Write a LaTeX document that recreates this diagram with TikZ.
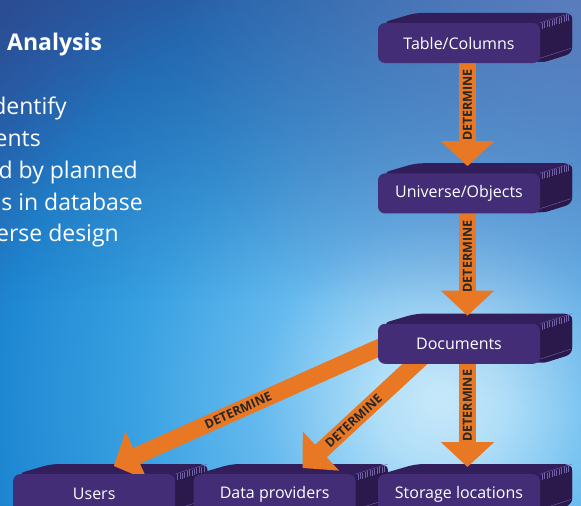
\documentclass[tikz,border=0pt]{standalone}
\usepackage{fontspec}
\setmainfont{Open Sans}
\usetikzlibrary{arrows.meta, positioning, backgrounds, fadings}
\usepackage{xcolor}
\definecolor{boxFront}{RGB}{66,45,118}
\definecolor{boxTop}{RGB}{50,30,90}
\definecolor{boxSide}{RGB}{43,25,76}
\definecolor{boxGrille}{RGB}{112,98,168}
\definecolor{arrowOrange}{RGB}{232,120,36}
\definecolor{labelGray}{RGB}{38,38,38}
\definecolor{skyGlow}{RGB}{200,232,250}
\definecolor{skyLight}{RGB}{175,222,248}
\definecolor{skyMid}{RGB}{100,185,238}
\definecolor{skyBlue}{RGB}{55,160,225}
\definecolor{skyBright}{RGB}{30,135,210}
\definecolor{skyDeep}{RGB}{38,105,182}
\definecolor{skyDark}{RGB}{46,80,150}
\definecolor{skyEdge}{RGB}{46,72,138}
\definecolor{hazeBlue}{RGB}{125,140,200}
\definecolor{topShade}{RGB}{42,72,140}
\pgfdeclareradialshading{skyglow}{\pgfpoint{0bp}{0bp}}{%
  color(0bp)=(skyGlow); color(2.5bp)=(skyLight); color(7bp)=(skyMid);
  color(12bp)=(skyBlue); color(17bp)=(skyBright); color(20bp)=(skyDeep);
  color(23bp)=(skyDark); color(25bp)=(skyEdge); color(50bp)=(skyEdge)}
\tikzfading[name=haze fade, inner color=transparent!35, outer color=transparent!100]
\tikzfading[name=top fade, top color=transparent!45, bottom color=transparent!100]
\tikzset{
    dbbox/.style={fill=boxFront, rounded corners=7pt, minimum width=162pt, minimum height=40pt,
        inner sep=0pt, text=white, font=\fontsize{16}{19}\selectfont},
    determine/.style={draw=arrowOrange, line width=17pt, -{Triangle[width=52pt,length=25pt]}},
    detlabel/.style={text=labelGray, inner sep=0pt, font=\fontsize{12.5}{14}\selectfont\bfseries},
    sidetext/.style={text=white, inner sep=0pt, font=\fontsize{23}{28}\selectfont}
}

\begin{document}
\begin{tikzpicture}[x=1pt, y=-1pt]
    \useasboundingbox (0,0) rectangle (581,506);

    % Text on the left, cut by the border
    \node[sidetext, font=\fontsize{23}{28}\selectfont\bfseries, anchor=base west] (title) at (7,50) {Analysis};
    \node[sidetext, anchor=base east] (line1) at (67,114) {dentify};
    \node[sidetext, anchor=base east] (line2) at (41,146) {ents};
    \node[sidetext, anchor=base east] (line3) at (138,178) {d by planned};
    \node[sidetext, anchor=base east] (line4) at (143,210) {s in database};
    \node[sidetext, anchor=base east] (line5) at (119,241) {erse design};

    % The boxes
    \node[dbbox] (table) at (459,43) {Table/Columns};
    \node[dbbox, below=110pt of table] (universe) {Universe/Objects};
    \node[dbbox, below=110pt of universe] (docs) {Documents};
    \node[dbbox, below=110pt of docs] (storage) {Storage locations};
    \node[dbbox, left=22pt of storage] (providers) {Data providers};
    \node[dbbox, left=18pt of providers] (users) {Users};

    \begin{scope}[on background layer]
        % Draw the sky behind everything
        \clip (0,0) rectangle (581,506);
        \shade[shading=skyglow] (440,400) circle (650);
        \fill[topShade, path fading=top fade] (0,0) rectangle (581,300);
        \fill[hazeBlue, path fading=haze fade] (600,-20) circle (430);

        % Top and side of each box
        \foreach \b in {table,universe,docs,users,providers,storage}{
            \fill[boxTop, rounded corners=8pt] ([xshift=4pt]\b.north west) -- ++(34,-10)
                -- ([shift={(32,-10)}]\b.north east) -- ([shift={(32,-10)}]\b.south east)
                -- (\b.south east) -- cycle;
            \fill[boxSide, rounded corners=6pt] (\b.north east) -- ([shift={(32,-10)}]\b.north east)
                -- ([shift={(32,-10)}]\b.south east) -- (\b.south east) -- cycle;
            \draw[boxGrille, line width=0.4pt] (\b.north east) -- ++(32,-10);
            \draw[boxGrille, line width=0.4pt] ([yshift=5pt]\b.south east) -- ++(31,-10);
            \foreach \k in {0,...,11}
                \draw[boxGrille, line width=0.5pt] ([shift={(2+2.4*\k,-0.75*\k)}]\b.north east) -- ++(0,6);
        }

        % Arrows between the boxes
        \draw[determine, shorten >=7pt] ([xshift=8.5pt]table.south) -- ([xshift=8.5pt]universe.north)
            node[detlabel, pos=0.38, rotate=90] {DETERMINE};
        \draw[determine, shorten >=8pt] ([xshift=8.5pt]universe.south) -- ([xshift=8.5pt]docs.north)
            node[detlabel, pos=0.39, rotate=90] {DETERMINE};
        \draw[determine, shorten >=7pt] ([xshift=8.5pt]docs.south) -- ([xshift=8.5pt]storage.north)
            node[detlabel, pos=0.38, rotate=90] {DETERMINE};
        \draw[determine] ([shift={(32,-10)}]docs.west) -- ([shift={(19.5,-8)}]users.north)
            node[detlabel, pos=0.58, sloped] {DETERMINE};
        \draw[determine] ([shift={(-29,-14)}]docs.south) -- ([shift={(28,-6)}]providers.north)
            node[detlabel, pos=0.6, sloped] {DETERMINE};
    \end{scope}
\end{tikzpicture}
\end{document}
